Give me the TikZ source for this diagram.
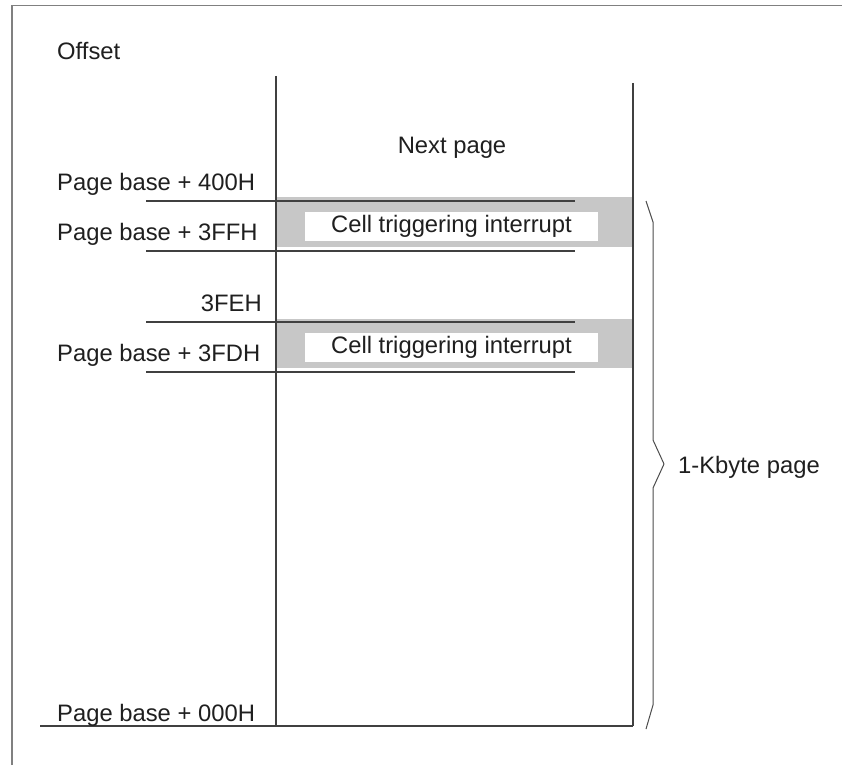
\documentclass[tikz,border=0pt]{standalone}
\usepackage{fontspec}
\setmainfont{Liberation Sans}
\begin{document}
\begin{tikzpicture}[x=1pt,y=-1pt,
  lbl/.style={font=\fontsize{23.8}{28}\selectfont, inner sep=0pt, text=black!88},
  ln/.style={line width=1.1pt, draw=black!75},
  band/.style={fill=black!22, draw=none},
  cellbox/.style={fill=white, draw=none, minimum width=293pt, minimum height=29pt, inner sep=0pt, font=\fontsize{23.8}{28}\selectfont, text=black!88}]
\useasboundingbox (0,0) rectangle (842,765);
% frame
\draw[black!50, line width=1.8pt] (12,765) -- (12,5.5) -- (842,5.5);
% bands
\fill[band] (276,197) rectangle (633,247);
\fill[band] (276,319) rectangle (633,368);
\node[cellbox] (cell1) at (451.5,226.5) {Cell triggering interrupt};
\node[cellbox] (cell2) at (451.5,347.5) {Cell triggering interrupt};
% horizontal lines
\draw[ln] (146,201) -- (575,201);
\draw[ln] (146,251) -- (575,251);
\draw[ln] (146,322) -- (575,322);
\draw[ln] (146,372) -- (575,372);
% verticals and bottom
\draw[ln] (276,76) -- (276,726);
\draw[ln] (633,83) -- (633,726);
\draw[ln] (40,726) -- (633,726);
% labels
\node[lbl, anchor=base west] (offset) at (57,60) {Offset};
\node[lbl, anchor=base] (next) at (452,153) {Next page};
\node[lbl, anchor=base west] (l400) at (57,190) {Page base + 400H};
\node[lbl, anchor=base west] (l3ff) at (57,240) {Page base + 3FFH};
\node[lbl, anchor=base east] (l3fe) at (262,311) {3FEH};
\node[lbl, anchor=base west] (l3fd) at (57,361) {Page base + 3FDH};
\node[lbl, anchor=base west] (l000) at (57,721) {Page base + 000H};
% brace
\draw[black!70, line width=1pt, line join=round] (646,201) -- (653,222) -- (653,440) -- (664,464) -- (653,488) -- (653,705) -- (646,729);
\node[lbl, anchor=base west] (kb) at (678,473) {1-Kbyte page};
\end{tikzpicture}
\end{document}
